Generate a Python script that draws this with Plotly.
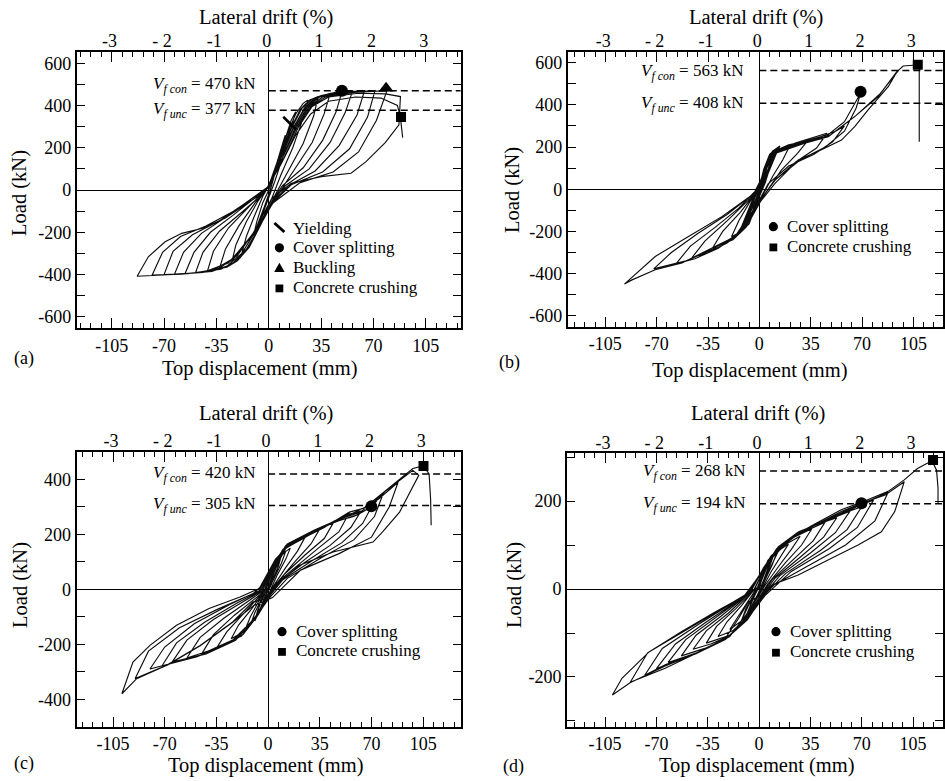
import plotly.graph_objects as go

FONT = "Liberation Serif, Times New Roman, Times, DejaVu Serif, serif"
W, H = 945, 781

# ---------------- DATA ----------------
# Hysteresis loops, top displacement (mm) vs load (kN)
A_LOOPS = [
    ([0, 4, 8, 11, 9, 5, 1, -3, -7, -10, -8, -4, 0],
     [0, 90, 190, 260, 200, 100, 0, -80, -160, -210, -150, -60, 0]),
    ([0, 5, 10, 15, 18, 15, 10, 4, 0, -5, -10, -15, -18, -15, -10, -4, 0],
     [0, 110, 230, 330, 370, 290, 170, 40, -40, -130, -220, -280, -300, -220, -130, -30, 20]),
    ([0, 6, 12, 18, 23, 26, 23, 16, 8, 2, -5, -12, -19, -25, -22, -15, -7, 0],
     [20, 140, 260, 360, 410, 425, 340, 200, 70, -40, -150, -250, -320, -350, -260, -150, -50, 20]),
    ([0, 7, 14, 21, 27, 33, 30, 23, 13, 3, -5, -13, -21, -28, -33, -29, -20, -9, 0],
     [20, 150, 280, 380, 425, 442, 350, 220, 90, -40, -160, -270, -335, -365, -372, -280, -170, -60, 15]),
    ([0, 7, 15, 22, 29, 35, 41, 37, 29, 17, 4, -6, -15, -24, -32, -41, -37, -27, -13, -1],
     [15, 150, 290, 385, 430, 447, 455, 360, 225, 95, -45, -170, -285, -345, -375, -384, -290, -180, -75, 10]),
    ([-1, 7, 16, 24, 31, 40, 49, 45, 36, 23, 9, 3, -8, -18, -28, -38, -49, -44, -33, -18, -5, 0],
     [10, 140, 290, 390, 435, 455, 468, 370, 235, 105, 20, -45, -185, -300, -360, -385, -392, -295, -195, -105, -25, 15]),
    ([0, 8, 17, 25, 33, 45, 56, 51, 41, 27, 11, 3, -9, -21, -33, -45, -56, -50, -39, -24, -9, 0],
     [15, 150, 300, 395, 440, 460, 468, 365, 225, 100, 20, -50, -190, -310, -370, -390, -396, -295, -200, -120, -35, 15]),
    ([0, 9, 18, 26, 34, 48, 64, 59, 47, 31, 13, 3, -10, -23, -36, -50, -63, -57, -45, -29, -11, 0],
     [15, 150, 300, 395, 440, 462, 470, 355, 210, 90, 20, -55, -200, -320, -375, -393, -398, -295, -205, -130, -40, 18]),
    ([0, 9, 19, 27, 36, 52, 71, 66, 54, 36, 15, 3, -11, -24, -38, -54, -70, -64, -51, -33, -13, 0],
     [18, 150, 300, 395, 440, 462, 470, 345, 195, 85, 25, -58, -210, -330, -380, -396, -400, -290, -212, -145, -50, 18]),
    ([0, 10, 20, 28, 38, 57, 79, 72, 60, 43, 21, 3, -12, -26, -41, -58, -78, -71, -59, -42, -22, -6, 0],
     [18, 150, 300, 395, 440, 462, 470, 330, 180, 85, 35, -60, -220, -340, -385, -398, -403, -295, -220, -170, -95, -25, 20]),
    ([0, 10, 20, 29, 40, 60, 78, 88, 87, 78, 65, 55, 35, 15, 2, -12, -27, -44, -64, -88,
      -80.5, -69.3, -58.2, -44.9, -29.3, -13.8, -2.7],
     [20, 150, 300, 395, 440, 458, 455, 442, 308, 225, 134, 79, 63, 32, -40, -225, -345, -390, -400, -408,
      -316, -245, -205, -182, -134, -63, -8]),
    ([-2.7, 8, 18, 28, 40, 58, 75, 86, 88, 89.5],
     [-8, 120, 260, 360, 420, 440, 435, 400, 342, 248]),
]

B_LOOPS = [
    ([0, 3, 6, 4, 1, -2, -5, -3, 0], [0, 70, 130, 70, 0, -60, -120, -60, 0]),
    ([0, 4, 8, 10, 7, 3, -1, -4, -8, -10, -7, -3, 0],
     [0, 90, 160, 180, 110, 20, -40, -100, -160, -180, -110, -30, 10]),
    ([0, 2, 5, 8, 12, 9, 5, 1, -2, -5, -9, -12, -9, -5, -1],
     [0, 60, 120, 165, 195, 140, 70, 0, -50, -110, -165, -200, -140, -70, 0]),
    ([0, 3, 7, 11, 8, 4, 0, -3, -7, -11, -8, -4, 0],
     [10, 95, 165, 190, 120, 30, -35, -95, -165, -190, -115, -35, 10]),
    ([0, 3, 6, 9, 13, 10, 6, 2, -2, -6, -10, -13, -10, -6, -2],
     [5, 80, 140, 175, 200, 150, 80, 15, -40, -100, -160, -205, -150, -80, -10]),
    ([-1, 2, 5, 9, 14, 11, 7, 3, -1, -5, -9, -14, -11, -7, -3],
     [0, 65, 130, 180, 205, 160, 90, 25, -30, -90, -155, -210, -160, -90, -20]),
    ([0, 5, 9, 15, 21, 16, 9, 3, -3, -7, -12, -19, -14, -7, -1],
     [10, 110, 175, 195, 210, 140, 60, -20, -90, -150, -200, -225, -150, -70, 5]),
    ([-1, 4, 10, 20, 33, 26, 15, 5, -3, -9, -18, -32, -25, -13, -3],
     [5, 100, 180, 210, 230, 170, 90, -10, -100, -180, -240, -280, -200, -110, -20]),
    ([-3, 4, 11, 25, 38, 46, 39, 25, 11, 3, -5, -12, -22, -35, -46, -37, -22, -8, 0],
     [-20, 90, 180, 220, 250, 265, 195, 130, 45, -30, -130, -200, -255, -300, -325, -245, -150, -55, 5]),
    ([0, 5, 11, 27, 42, 52, 58, 50, 37, 20, 6, 1, -7, -15, -28, -44, -57, -47, -30, -14, -3],
     [5, 100, 180, 220, 250, 275, 300, 225, 165, 110, 25, -40, -140, -215, -280, -330, -355, -270, -180, -90, -10]),
    ([-3, 5, 11, 29, 45, 58, 69, 66, 58, 45, 28, 10, 2, -7, -16, -32, -50, -72, -60, -42, -22, -8, 0],
     [-10, 100, 175, 218, 248, 320, 455, 385, 275, 200, 140, 40, -45, -135, -220, -285, -340, -378, -300, -210, -120, -45, 0]),
    ([0, 10.7, 31, 47, 65, 81, 94, 88, 74, 65, 56, 42, 26.5, 10.7, 1.6, -7.5, -16.5, -34.7, -52.8, -71, -86.8, -92,
      -71, -48.3, -25.6, -9.7, 0],
     [0, 170, 218, 249, 344, 439, 560, 487, 375, 297, 233, 186, 139, 28, -51, -130, -224, -287, -350, -382, -430, -450,
      -319, -224, -130, -51, -3]),
    ([0, 10.7, 30, 48, 66, 82, 95, 98, 107, 109, 109],
     [-3, 175, 222, 255, 350, 450, 565, 584, 589, 590, 225]),
]

C_LOOPS = [
    ([0, 4, 8, 6, 2, -2, -5, -8, -6, -2, 0], [0, 60, 110, 70, 15, -25, -65, -100, -60, -15, 0]),
    ([0, 3, 6, 9, 7, 3, 0, -3, -6, -9, -7, -3, 0],
     [0, 50, 95, 125, 85, 35, 0, -40, -80, -115, -75, -25, 5]),
    ([0, 4, 8, 12, 9, 4, 0, -4, -8, -12, -9, -4, 0],
     [5, 70, 115, 140, 95, 40, -5, -55, -100, -130, -85, -30, 5]),
    ([0, 5, 10, 15, 12, 6, 1, -4, -9, -15, -12, -6, -1],
     [0, 80, 130, 150, 110, 50, -10, -60, -110, -140, -100, -40, 5]),
    ([-1, 4, 10, 17, 25, 20, 12, 4, -1, -7, -15, -25, -20, -11, -3],
     [5, 85, 140, 170, 190, 140, 80, 15, -30, -90, -150, -180, -130, -70, -10]),
    ([-3, 3, 10, 22, 35, 29, 18, 7, 0, -7, -17, -35, -28, -16, -5],
     [-10, 80, 145, 180, 220, 165, 100, 30, -25, -95, -165, -215, -155, -85, -20]),
    ([-5, 3, 11, 25, 38, 45, 38, 25, 11, 2, -7, -18, -32, -45, -37, -23, -8, 0],
     [-20, 80, 150, 190, 225, 250, 185, 125, 55, -15, -95, -170, -205, -235, -165, -95, -30, 5]),
    ([0, 5, 12, 28, 43, 55, 48, 34, 18, 5, -1, -8, -20, -38, -55, -46, -30, -13, -2],
     [5, 90, 155, 200, 240, 280, 210, 150, 80, 20, -25, -95, -175, -220, -250, -175, -105, -40, 0]),
    ([-2, 5, 12, 30, 46, 54, 63, 56, 42, 24, 8, 0, -8, -22, -42, -65, -55, -37, -17, -4],
     [0, 95, 160, 210, 250, 272, 285, 225, 160, 95, 30, -28, -100, -185, -235, -265, -185, -110, -45, -5]),
    ([-4, 4, 12, 30, 47, 58, 70, 64, 50, 30, 10, 0, -9, -24, -46, -72, -62, -43, -21, -5],
     [-5, 90, 160, 210, 250, 265, 300, 240, 170, 105, 35, -30, -105, -190, -240, -280, -195, -120, -50, -5]),
    ([-5, 4, 13, 31, 48, 60, 70, 78, 72, 58, 36, 13, 1, -9, -25, -48, -80, -70, -50, -26, -6],
     [-5, 95, 165, 215, 250, 270, 300, 350, 265, 180, 115, 40, -30, -105, -190, -245, -290, -210, -125, -55, -5]),
    ([-6, 3, 13, 31, 48, 62, 75, 88, 82, 70, 48, 22, 3, -10, -24, -46, -68, -90, -81, -60, -34, -10],
     [-5, 90, 165, 215, 255, 280, 330, 390, 300, 190, 130, 70, -30, -60, -120, -205, -275, -325, -225, -140, -72, -15]),
    ([-10, -1, 12, 30, 44, 55, 68, 80, 98, 102, 89, 77.5, 71, 44, 21, 5.6, -1.4, -10.4, -24, -46, -69, -89, -99,
      -91.5, -80, -62, -40, -19, -6],
     [-15, 30, 150, 205, 245, 281, 300, 360, 433, 415, 281, 209, 172, 136, 87, 15, -34, -46, -119, -204, -277, -325, -380,
      -265, -204, -131, -70, -28, 3]),
    ([-6, 5, 15, 32, 50, 66, 82, 98, 105, 109, 110, 110.4],
     [3, 110, 165, 215, 258, 300, 370, 440, 449, 420, 330, 233]),
]

D_LOOPS = [
    ([0, 3, 7, 5, 1, -2, -7, -5, -1], [0, 35, 60, 35, 0, -20, -50, -25, 5]),
    ([0, 3, 6, 10, 7, 3, 0, -3, -6, -10, -7, -3, 0],
     [3, 40, 65, 78, 50, 18, -5, -30, -55, -70, -45, -15, 5]),
    ([-1, 4, 8, 12, 9, 4, 0, -4, -8, -12, -9, -4, 0],
     [5, 45, 70, 82, 55, 20, -10, -35, -60, -72, -45, -15, 8]),
    ([0, 4, 8, 14, 10, 5, 0, -4, -8, -14, -10, -5, 0],
     [5, 50, 75, 92, 65, 28, -5, -35, -65, -85, -58, -22, 5]),
    ([0, 5, 10, 20, 15, 8, 2, -3, -9, -20, -15, -8, -1],
     [8, 55, 80, 102, 75, 38, 0, -30, -65, -92, -65, -30, 5]),
    ([-1, 5, 11, 20, 28, 22, 13, 4, -3, -10, -18, -28, -22, -12, -3],
     [5, 55, 85, 105, 120, 90, 50, 8, -30, -70, -95, -108, -75, -38, 0]),
    ([-3, 4, 11, 22, 36, 29, 18, 6, -2, -10, -20, -36, -29, -16, -4],
     [0, 50, 85, 115, 137, 100, 60, 12, -30, -75, -105, -123, -85, -45, -5]),
    ([-4, 4, 12, 24, 36, 45, 37, 24, 9, 0, -9, -21, -33, -45, -36, -21, -6],
     [-5, 50, 88, 118, 138, 152, 110, 70, 22, -22, -70, -108, -125, -137, -95, -55, -8]),
    ([-6, 3, 12, 25, 38, 53, 44, 29, 11, 1, -9, -22, -37, -53, -43, -26, -7],
     [-8, 48, 90, 122, 145, 162, 118, 75, 25, -20, -72, -112, -135, -152, -105, -62, -10]),
    ([-7, 3, 12, 26, 40, 53, 62, 52, 35, 14, 2, -8, -23, -40, -62, -50, -31, -8],
     [-10, 45, 92, 125, 148, 165, 177, 128, 82, 30, -18, -70, -115, -142, -167, -115, -68, -12]),
    ([-8, 3, 13, 26, 41, 57, 70, 60, 42, 18, 3, -8, -23, -43, -70, -57, -36, -9],
     [-12, 45, 95, 128, 150, 172, 187, 135, 88, 35, -15, -70, -115, -147, -181, -125, -75, -14]),
    ([-9, 2, 13, 26, 42, 58, 70, 78, 67, 48, 22, 4, -8, -23, -44, -64, -78, -66, -42, -10],
     [-14, 40, 95, 128, 150, 174, 192, 202, 140, 92, 40, -15, -68, -115, -147, -172, -196, -135, -82, -15]),
    ([-10, 2, 13, 27, 42, 58, 72, 88, 79, 59, 32, 8, -7, -20, -42, -64, -88, -76, -48, -12],
     [-15, 38, 96, 130, 150, 176, 196, 220, 155, 100, 50, 5, -50, -108, -145, -175, -213, -145, -90, -18]),
    ([-12, 1.8, 8.6, 22, 38, 56, 70, 86, 99, 92.5, 83.4, 67.5, 49.4, 26.7, 8.6, 1.8, -7.3, -14, -23, -41, -64, -87, -100,
      -93.5, -75, -53, -30, -9.5, -0.5],
     [-18, 9, 70, 115, 145, 176, 195, 214, 244, 176, 130, 100, 70, 32, 9, -14, -29, -67, -112, -143, -180, -211, -241,
      -203, -143, -97, -52, -14, 2]),
    ([-0.5, 8, 22, 38, 56, 72, 88, 99, 108, 114, 118, 121, 122, 122],
     [2, 70, 118, 148, 180, 200, 222, 248, 274, 285, 291, 270, 230, 195]),
]

# Flexural strengths (kN): confined, unconfined
A_VF = [470, 377]
B_VF = [563, 408]
C_VF = [420, 305]
D_VF = [268, 194]

# Damage events (x mm, y kN)
A_YIELD = ([14], [316])
A_COVER = ([48.9], [470])
A_BUCKLE = ([78.4], [481])
A_CRUSH = ([88.4], [345])
B_COVER = ([69], [462])
B_CRUSH = ([108], [590])
C_COVER = ([69.9], [302])
C_CRUSH = ([105.2], [449])
D_COVER = ([69.8], [195])
D_CRUSH = ([118.6], [293])

X_TICKS = [-105, -70, -35, 0, 35, 70, 105]
X_TICK_TEXT = ["-105", "-70", "-35", "0", "35", "70", "105"]
DRIFT_TICKS = [-3, -2, -1, 0, 1, 2, 3]
DRIFT_TEXT = ["-3", "- 2", "-1", "0", "1", "2", "3"]
Y_TICKS_AB = [-600, -400, -200, 0, 200, 400, 600]
Y_TEXT_AB = ["-600", "-400", "-200", "0", "200", "400", "600"]
Y_TICKS_C = [-400, -200, 0, 200, 400]
Y_TEXT_C = ["-400", "-200", "0", "200", "400"]
Y_TICKS_D = [-200, 0, 200]
Y_TEXT_D = ["-200", "0", "200"]

# ---------------- LAYOUT GEOMETRY (pixels) ----------------
def pxx(p):
    return p / W


def pxy(p):
    return 1 - p / H


PANELS = [
    dict(label="(a)", loops=A_LOOPS, vf=A_VF,
         events=[("Yielding", A_YIELD, "line-nw", 13), ("Cover splitting", A_COVER, "circle", 12),
                 ("Buckling", A_BUCKLE, "triangle-up", 13), ("Concrete crushing", A_CRUSH, "square", 10)],
         box=(77, 461.7, 52, 328), xr=[-128.3, 128.3], yr=[-653, 653],
         yt=(Y_TICKS_AB, Y_TEXT_AB), vtext_x=258, vtext_y=(85, 110),
         leg=(291.7, 228, 19.8), lab=(24, 358), ytitle=(20, 193), xtitle=(261, 368), ttitle=(267, 18)),
    dict(label="(b)", loops=B_LOOPS, vf=B_VF,
         events=[("Cover splitting", B_COVER, "circle", 12), ("Concrete crushing", B_CRUSH, "square", 10)],
         box=(569, 945, 51.7, 326.7), xr=[-130.6, 125.2], yr=[-652, 652],
         yt=(Y_TICKS_AB, Y_TEXT_AB), vtext_x=747, vtext_y=(71.7, 104),
         leg=(786.7, 226.7, 19.7), lab=(511, 362), ytitle=(513, 190), xtitle=(752, 370), ttitle=(758, 17)),
    dict(label="(c)", loops=C_LOOPS, vf=C_VF,
         events=[("Cover splitting", C_COVER, "circle", 12), ("Concrete crushing", C_CRUSH, "square", 10)],
         box=(76.7, 461.7, 451.7, 726.7), xr=[-129.7, 130.4], yr=[-500, 501],
         yt=(Y_TICKS_C, Y_TEXT_C), vtext_x=258, vtext_y=(474.3, 505),
         leg=(294.3, 631.7, 19.2), lab=(24, 763), ytitle=(20, 585), xtitle=(267, 765), ttitle=(267, 414)),
    dict(label="(d)", loops=D_LOOPS, vf=D_VF,
         events=[("Cover splitting", D_COVER, "circle", 12), ("Concrete crushing", D_CRUSH, "square", 10)],
         box=(568.3, 945, 453.3, 726.7), xr=[-130.9, 125.4], yr=[-313, 308.5],
         yt=(Y_TICKS_D, Y_TEXT_D), vtext_x=749, vtext_y=(472.3, 504),
         leg=(789.3, 631.7, 20), lab=(515, 766), ytitle=(515, 585), xtitle=(759, 765), ttitle=(760, 414)),
]


def legend_symbol(sym, cx, cy):
    """Legend key drawn as a paper-space shape centred on (cx, cy) pixels."""
    blk = dict(color="black", width=0)
    if sym == "circle":
        r = 4.6
        return dict(type="circle", xref="paper", yref="paper", x0=pxx(cx - r), x1=pxx(cx + r),
                    y0=pxy(cy + r), y1=pxy(cy - r), fillcolor="black", line=blk)
    if sym == "square":
        r = 3.9
        return dict(type="rect", xref="paper", yref="paper", x0=pxx(cx - r), x1=pxx(cx + r),
                    y0=pxy(cy + r + 1), y1=pxy(cy - r + 1), fillcolor="black", line=blk)
    if sym == "triangle-up":
        p = f"M {pxx(cx - 5.2)},{pxy(cy + 4.3)} L {pxx(cx + 5.2)},{pxy(cy + 4.3)} L {pxx(cx)},{pxy(cy - 4.8)} Z"
        return dict(type="path", xref="paper", yref="paper", path=p, fillcolor="black", line=blk)
    return dict(type="line", xref="paper", yref="paper", x0=pxx(cx - 5), x1=pxx(cx + 5),
                y0=pxy(cy - 5), y1=pxy(cy + 4), line=dict(color="black", width=3))


fig = go.Figure()
layout = dict(width=W, height=H, margin=dict(l=0, r=0, t=0, b=0), autosize=False,
              paper_bgcolor="white", plot_bgcolor="white", showlegend=False,
              font=dict(family=FONT, color="black"))
shapes, annotations = [], []

tickfont = dict(family=FONT, size=18, color="black")

for i, P in enumerate(PANELS, start=1):
    xa = "x" if i == 1 else f"x{i}"
    ya = "y" if i == 1 else f"y{i}"
    xt = f"x{i + 4}"

    xs, ys = [], []
    for lx, ly in P["loops"]:
        xs += lx
        ys += ly
    fig.add_trace(go.Scatter(x=xs, y=ys, mode="lines", line=dict(color="#0d0d0d", width=1.15),
                             xaxis=xa, yaxis=ya, showlegend=False, hoverinfo="skip"))
    # dummy trace for the top (drift) axis
    fig.add_trace(go.Scatter(x=[], y=[], xaxis=xt, yaxis=ya, showlegend=False, hoverinfo="skip"))

    tx, ty0, dy = P["leg"]
    for k, (name, (ex, ey), sym, sz) in enumerate(P["events"]):
        if sym.startswith("line"):
            mk = dict(symbol=sym, size=sz, color="black", line=dict(color="black", width=2.6))
        else:
            mk = dict(symbol=sym, size=sz, color="black", line=dict(width=0))
        fig.add_trace(go.Scatter(x=ex, y=ey, mode="markers", marker=mk, name=name,
                                 xaxis=xa, yaxis=ya, showlegend=False, hoverinfo="skip"))
        cy = ty0 + k * dy
        shapes.append(legend_symbol(sym, tx - 11.7, cy))
        annotations.append(dict(xref="paper", yref="paper", x=pxx(tx), y=pxy(cy), xanchor="left",
                                yanchor="middle", showarrow=False, text=name,
                                font=dict(family=FONT, size=17, color="black")))

    l, r, t, b = P["box"]
    xdom = [pxx(l), min(1.0, pxx(r))]
    ydom = [pxy(b), pxy(t)]
    layout["xaxis" if i == 1 else f"xaxis{i}"] = dict(
        domain=xdom, range=P["xr"], anchor=ya, tickmode="array", tickvals=X_TICKS, ticktext=X_TICK_TEXT,
        showline=True, linecolor="black", linewidth=2, mirror="allticks",
        ticks="inside", ticklen=10, tickwidth=1.2, tickcolor="black",
        minor=dict(dtick=7, tick0=0, ticks="inside", ticklen=5, tickwidth=1, tickcolor="black"),
        showgrid=False, zeroline=True, zerolinecolor="black", zerolinewidth=1.3,
        tickfont=tickfont, fixedrange=True)
    layout["yaxis" if i == 1 else f"yaxis{i}"] = dict(
        domain=ydom, range=P["yr"], anchor=xa, tickmode="array", tickvals=P["yt"][0], ticktext=P["yt"][1],
        showline=True, linecolor="black", linewidth=2, mirror="allticks",
        ticks="inside", ticklen=8, tickwidth=1.2, tickcolor="black",
        minor=dict(dtick=100, tick0=0, ticks="inside", ticklen=8, tickwidth=1.2, tickcolor="black"),
        showgrid=False, zeroline=True, zerolinecolor="black", zerolinewidth=1.3,
        tickfont=tickfont, fixedrange=True)
    layout[f"xaxis{i + 4}"] = dict(
        overlaying=xa, side="top", anchor=ya,
        range=[(P["xr"][0] + 1.4) / 35, (P["xr"][1] + 1.4) / 35],
        tickmode="array", tickvals=DRIFT_TICKS, ticktext=DRIFT_TEXT, ticks="",
        showline=False, showgrid=False, zeroline=False, tickfont=tickfont, fixedrange=True)

    # dashed strength lines
    for v in P["vf"]:
        shapes.append(dict(type="line", xref=xa, yref=ya, x0=0, x1=P["xr"][1], y0=v, y1=v,
                           line=dict(color="black", width=1.5, dash="7px,4px")))
    # strength labels
    for v, tag, py in zip(P["vf"], ["f con", "f unc"], P["vtext_y"]):
        annotations.append(dict(
            xref="paper", yref="paper", x=pxx(P["vtext_x"]), y=pxy(py), xanchor="right", yanchor="middle",
            showarrow=False, text=f"<i>V</i><sub><i>{tag}</i></sub> = {v} kN",
            font=dict(family=FONT, size=17, color="black")))
    # titles
    annotations.append(dict(xref="paper", yref="paper", x=pxx(P["ttitle"][0]), y=pxy(P["ttitle"][1]),
                            xanchor="center", yanchor="middle", showarrow=False, text="Lateral drift (%)",
                            font=dict(family=FONT, size=20.5, color="black")))
    annotations.append(dict(xref="paper", yref="paper", x=pxx(P["xtitle"][0]), y=pxy(P["xtitle"][1]),
                            xanchor="center", yanchor="middle", showarrow=False, text="Top displacement (mm)",
                            font=dict(family=FONT, size=20.5, color="black")))
    annotations.append(dict(xref="paper", yref="paper", x=pxx(P["ytitle"][0]), y=pxy(P["ytitle"][1]),
                            xanchor="center", yanchor="middle", showarrow=False, text="Load (kN)", textangle=-90,
                            font=dict(family=FONT, size=20.5, color="black")))
    annotations.append(dict(xref="paper", yref="paper", x=pxx(P["lab"][0]), y=pxy(P["lab"][1]),
                            xanchor="center", yanchor="middle", showarrow=False, text=P["label"],
                            font=dict(family=FONT, size=18, color="black")))

layout["shapes"] = shapes
layout["annotations"] = annotations
fig.update_layout(**layout)
fig.write_html("out.html")
